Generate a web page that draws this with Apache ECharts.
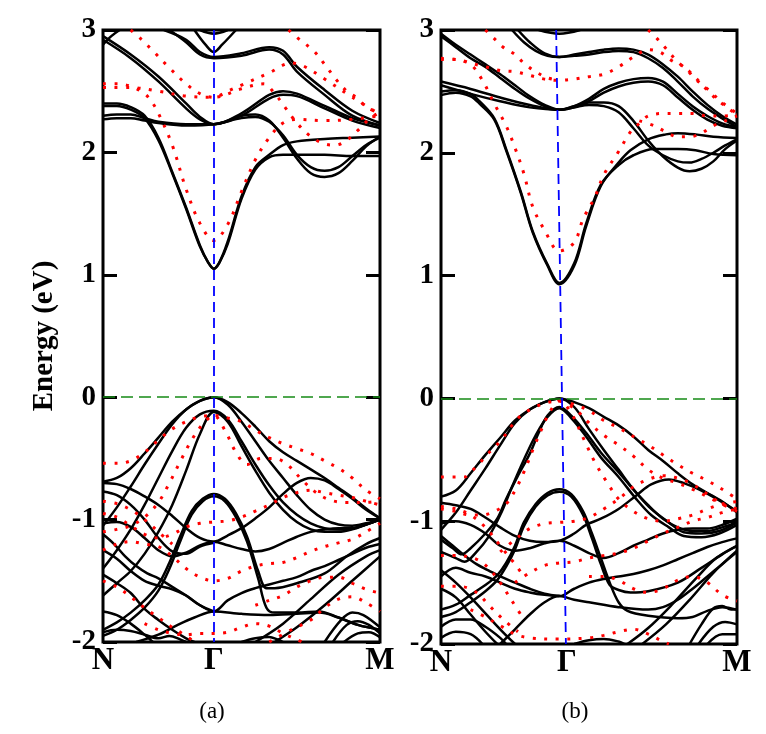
<!DOCTYPE html>
<html>
<head>
<meta charset="utf-8">
<script src="https://cdn.jsdelivr.net/npm/echarts@6/dist/echarts.min.js"></script>
<style>
  html, body { margin: 0; padding: 0; background: #fff; }
  #chart { width: 766px; height: 734px; }
</style>
</head>
<body>
<div id="chart"></div>
<script>
// energy axis (eV) and k-path labels
var yMin = -2, yMax = 3, yStep = 1;
var kNames = ['N', 'Γ', 'M'];
var kLabelPosA = [0, 0.4, 1];
var kLabelPosB = [0, 0.425, 1];
var gammaLineA = [[0.4, 3], [0.4, -2]];
var gammaLineB = [[0.389, 3], [0.422, -2]];

// panel (a): black solid bands, conduction
var blackCondA = [
  [[0,2.40],[0.05,2.40],[0.1,2.37],[0.15,2.30],[0.2,2.12],[0.25,1.84],[0.3,1.55],[0.35,1.24],[0.38,1.1],[0.4,1.05],[0.42,1.1],[0.45,1.25],[0.5,1.62],[0.55,1.86],[0.6,1.96],[0.65,1.98],[0.7,1.98],[0.8,1.98],[0.9,1.97],[1,1.97]],
  [[0,2.38],[0.05,2.38],[0.1,2.35],[0.15,2.28],[0.2,2.1],[0.25,1.83],[0.3,1.54],[0.35,1.23],[0.38,1.1],[0.4,1.05],[0.42,1.1],[0.45,1.27],[0.5,1.64],[0.55,1.88],[0.6,1.98],[0.65,2.06],[0.7,2.09],[0.8,2.11],[0.9,2.12],[1,2.13]],
  [[0,2.30],[0.05,2.31],[0.1,2.31],[0.15,2.28],[0.2,2.25],[0.3,2.23],[0.4,2.23],[0.5,2.30],[0.55,2.31],[0.6,2.26],[0.65,2.12],[0.7,1.95],[0.75,1.83],[0.8,1.8],[0.85,1.83],[0.9,1.93],[0.95,2.05],[1,2.13]],
  [[0,2.27],[0.05,2.28],[0.1,2.28],[0.15,2.26],[0.2,2.24],[0.3,2.22],[0.4,2.23],[0.5,2.28],[0.55,2.29],[0.6,2.25],[0.65,2.14],[0.7,1.98],[0.75,1.88],[0.8,1.85],[0.85,1.88],[0.9,1.97],[0.95,2.06],[1,2.12]],
  [[0,2.92],[0.1,2.77],[0.2,2.58],[0.3,2.36],[0.35,2.27],[0.4,2.23],[0.5,2.32],[0.6,2.47],[0.65,2.50],[0.7,2.48],[0.8,2.38],[0.9,2.28],[1,2.22]],
  [[0,2.95],[0.1,2.8],[0.2,2.62],[0.3,2.4],[0.35,2.29],[0.4,2.23],[0.5,2.30],[0.6,2.44],[0.65,2.47],[0.7,2.46],[0.8,2.36],[0.9,2.26],[1,2.2]],
  [[0.24,3.0],[0.3,2.9],[0.35,2.8],[0.4,2.77],[0.5,2.79],[0.6,2.84],[0.65,2.8],[0.7,2.66],[0.8,2.47],[0.9,2.3],[1,2.22]],
  [[0.22,3.0],[0.3,2.92],[0.35,2.82],[0.4,2.78],[0.5,2.81],[0.6,2.86],[0.65,2.83],[0.7,2.7],[0.8,2.51],[0.9,2.34],[1,2.24]],
  [[0.33,3.0],[0.37,2.88],[0.4,2.82],[0.43,2.88],[0.48,3.0]],
  [[0.35,3.0],[0.4,2.97],[0.45,3.0]],
  [[0,2.88],[0.03,2.95],[0.06,3.0]]
];

// panel (a): black solid bands, valence
var blackValA = [
  [[0,-0.69],[0.05,-0.66],[0.1,-0.58],[0.15,-0.46],[0.2,-0.33],[0.25,-0.2],[0.3,-0.1],[0.35,-0.03],[0.4,0],[0.45,-0.04],[0.5,-0.13],[0.55,-0.24],[0.6,-0.36],[0.65,-0.45],[0.7,-0.52],[0.75,-0.59],[0.8,-0.66],[0.85,-0.74],[0.9,-0.82],[0.95,-0.91],[1,-0.99]],
  [[0,-1.05],[0.05,-0.9],[0.1,-0.73],[0.15,-0.55],[0.2,-0.38],[0.25,-0.22],[0.3,-0.1],[0.35,-0.03],[0.4,0],[0.45,-0.06],[0.5,-0.2],[0.55,-0.36],[0.6,-0.52],[0.65,-0.66],[0.7,-0.8],[0.75,-0.92],[0.8,-1.0],[0.85,-1.04],[0.9,-1.05],[0.95,-1.03],[1,-1.0]],
  [[0,-1.4],[0.05,-1.25],[0.1,-1.08],[0.15,-0.88],[0.2,-0.66],[0.25,-0.44],[0.3,-0.25],[0.35,-0.14],[0.4,-0.11],[0.45,-0.18],[0.5,-0.36],[0.55,-0.55],[0.6,-0.72],[0.65,-0.86],[0.7,-0.96],[0.75,-1.03],[0.8,-1.07],[0.85,-1.08],[0.9,-1.07],[0.95,-1.04],[1,-1.0]],
  [[0,-1.62],[0.05,-1.52],[0.1,-1.42],[0.15,-1.28],[0.2,-1.1],[0.25,-0.88],[0.3,-0.6],[0.35,-0.3],[0.4,-0.12],[0.45,-0.2],[0.5,-0.4],[0.55,-0.6],[0.6,-0.78],[0.65,-0.92],[0.7,-1.02],[0.75,-1.08],[0.8,-1.1],[0.85,-1.1],[0.9,-1.08],[0.95,-1.04],[1,-1.0]],
  [[0,-0.7],[0.05,-0.71],[0.1,-0.75],[0.15,-0.81],[0.2,-0.88],[0.25,-0.97],[0.3,-1.07],[0.35,-1.15],[0.4,-1.18],[0.45,-1.13],[0.5,-1.07],[0.55,-0.99],[0.6,-0.9],[0.65,-0.79],[0.7,-0.7],[0.75,-0.66],[0.8,-0.68],[0.85,-0.75],[0.9,-0.83],[0.95,-0.92],[1,-0.99]],
  [[0,-1.03],[0.05,-1.02],[0.1,-1.06],[0.15,-1.15],[0.2,-1.25],[0.25,-1.3],[0.3,-1.27],[0.35,-1.21],[0.4,-1.18],[0.45,-1.21],[0.5,-1.24],[0.55,-1.26],[0.6,-1.24],[0.65,-1.19],[0.7,-1.14],[0.75,-1.1],[0.8,-1.08],[0.85,-1.07],[0.9,-1.07],[0.95,-1.04],[1,-1.0]],
  [[0,-0.77],[0.05,-0.8],[0.1,-0.88],[0.15,-1.0],[0.2,-1.15],[0.25,-1.26],[0.3,-1.28],[0.35,-1.22],[0.4,-1.19]],
  [[0,-1.9],[0.05,-1.84],[0.1,-1.76],[0.15,-1.66],[0.2,-1.53],[0.24,-1.35],[0.28,-1.13],[0.32,-0.93],[0.36,-0.83],[0.4,-0.79],[0.44,-0.83],[0.48,-0.95],[0.52,-1.14],[0.56,-1.42],[0.59,-1.56],[0.62,-1.56],[0.7,-1.52],[0.8,-1.44],[0.88,-1.3],[0.95,-1.2],[1,-1.15]],
  [[0,-1.95],[0.05,-1.9],[0.1,-1.82],[0.15,-1.72],[0.2,-1.58],[0.24,-1.4],[0.28,-1.17],[0.32,-0.96],[0.36,-0.85],[0.4,-0.81],[0.44,-0.85],[0.48,-0.98],[0.52,-1.18],[0.56,-1.48],[0.59,-1.72],[0.62,-1.76],[0.7,-1.76],[0.78,-1.75],[0.85,-1.8],[0.92,-1.86],[1,-1.9]],
  [[0,-1.25],[0.05,-1.32],[0.1,-1.42],[0.15,-1.5],[0.2,-1.54],[0.25,-1.57],[0.3,-1.62],[0.35,-1.7],[0.4,-1.75],[0.45,-1.66],[0.5,-1.6],[0.55,-1.56],[0.6,-1.53],[0.65,-1.5],[0.7,-1.47],[0.75,-1.42],[0.8,-1.38],[0.85,-1.33],[0.9,-1.28],[0.95,-1.23],[1,-1.2]],
  [[0.12,-2.0],[0.2,-1.94],[0.27,-1.86],[0.33,-1.8],[0.4,-1.75],[0.5,-1.77],[0.6,-1.78],[0.7,-1.77],[0.78,-1.76],[0.85,-1.8],[0.92,-1.86],[1,-1.9]],
  [[0.55,-2.0],[0.65,-1.85],[0.75,-1.65],[0.85,-1.45],[0.95,-1.3],[1,-1.25]],
  [[0.62,-2.0],[0.7,-1.88],[0.8,-1.7],[0.9,-1.5],[1,-1.3]],
  [[0.8,-2.0],[0.86,-1.82],[0.9,-1.76],[0.94,-1.78],[1,-1.88]],
  [[0.83,-2.0],[0.88,-1.86],[0.92,-1.83],[0.96,-1.86],[1,-1.93]],
  [[0.87,-2.0],[0.92,-1.93],[0.96,-1.92],[1,-1.96]],
  [[0,-1.45],[0.05,-1.52],[0.1,-1.6],[0.15,-1.73],[0.2,-1.82],[0.25,-1.9],[0.3,-1.97],[0.33,-2.0]],
  [[0,-1.75],[0.05,-1.78],[0.1,-1.85],[0.15,-1.94],[0.18,-2.0]],
  [[0,-1.92],[0.05,-1.9],[0.1,-1.91],[0.15,-1.94],[0.2,-1.97],[0.24,-1.95],[0.28,-1.98],[0.3,-2.0]],
  [[0.5,-2.0],[0.55,-1.97],[0.6,-1.96],[0.63,-1.98],[0.65,-2.0]],
  [[0,-1.12],[0.04,-1.2],[0.08,-1.3],[0.12,-1.38],[0.16,-1.44],[0.2,-1.48],[0.25,-1.55],[0.3,-1.62],[0.35,-1.7],[0.4,-1.75]]
];

// panel (a): red dotted bands
var redA = [
  [[0,2.56],[0.05,2.56],[0.1,2.54],[0.15,2.48],[0.18,2.4],[0.2,2.32],[0.25,2.06],[0.3,1.7],[0.35,1.42],[0.4,1.28],[0.45,1.41],[0.5,1.68],[0.55,1.94],[0.6,2.12],[0.65,2.24],[0.7,2.27],[0.8,2.26],[0.9,2.27],[1,2.3]],
  [[0,2.53],[0.1,2.53],[0.2,2.5],[0.3,2.46],[0.4,2.45],[0.5,2.52],[0.58,2.56],[0.62,2.48],[0.66,2.36],[0.7,2.24],[0.75,2.13],[0.8,2.07],[0.84,2.06],[0.88,2.1],[0.92,2.18],[0.96,2.27],[1,2.33]],
  [[0.1,3.0],[0.14,2.92],[0.18,2.83],[0.24,2.69],[0.3,2.56],[0.35,2.48],[0.4,2.45],[0.45,2.5],[0.5,2.55],[0.6,2.65],[0.68,2.73],[0.72,2.71],[0.8,2.6],[0.9,2.45],[1,2.31]],
  [[0.67,3.0],[0.7,2.94],[0.76,2.83],[0.8,2.72],[0.84,2.6],[0.88,2.5],[0.92,2.44],[0.95,2.37],[1,2.32]],
  [[0,-0.54],[0.05,-0.54],[0.1,-0.52],[0.15,-0.45],[0.2,-0.35],[0.25,-0.26],[0.3,-0.2],[0.35,-0.16],[0.4,-0.15],[0.45,-0.17],[0.5,-0.2],[0.55,-0.27],[0.6,-0.33],[0.65,-0.38],[0.7,-0.42],[0.75,-0.46],[0.8,-0.52],[0.85,-0.58],[0.9,-0.66],[0.95,-0.76],[1,-0.83]],
  [[0,-1.1],[0.05,-1.08],[0.1,-1.05],[0.15,-0.98],[0.2,-0.86],[0.24,-0.7],[0.28,-0.52],[0.32,-0.35],[0.36,-0.22],[0.4,-0.15],[0.44,-0.27],[0.48,-0.45],[0.52,-0.55],[0.57,-0.5],[0.62,-0.5],[0.67,-0.56],[0.72,-0.68],[0.77,-0.78],[0.82,-0.84],[0.88,-0.86],[0.94,-0.86],[1,-0.85]],
  [[0,-0.95],[0.05,-0.98],[0.1,-1.05],[0.15,-1.12],[0.2,-1.15],[0.25,-1.12],[0.3,-1.06],[0.35,-1.03],[0.4,-1.02],[0.45,-1.01],[0.5,-0.98],[0.55,-0.93],[0.6,-0.88],[0.65,-0.82],[0.7,-0.78],[0.75,-0.76],[0.8,-0.78],[0.85,-0.8],[0.9,-0.82],[0.95,-0.85],[1,-0.88]],
  [[0,-1.25],[0.05,-1.2],[0.1,-1.18],[0.15,-1.2],[0.2,-1.22],[0.25,-1.3],[0.3,-1.4],[0.35,-1.47],[0.4,-1.5],[0.45,-1.48],[0.5,-1.42],[0.55,-1.38],[0.6,-1.36],[0.65,-1.35],[0.7,-1.31],[0.75,-1.26],[0.8,-1.22],[0.85,-1.19],[0.9,-1.16],[0.95,-1.1],[1,-1.03]],
  [[0.15,-1.85],[0.2,-1.9],[0.25,-1.93],[0.3,-1.94],[0.35,-1.93],[0.4,-1.93],[0.45,-1.92],[0.5,-1.88],[0.55,-1.85],[0.6,-1.87],[0.65,-1.93],[0.7,-1.98],[0.72,-2.0]],
  [[0.6,-2.0],[0.68,-1.9],[0.75,-1.82],[0.8,-1.72],[0.85,-1.65],[0.9,-1.63],[0.95,-1.68],[1,-1.75]],
  [[0.55,-1.7],[0.6,-1.66],[0.65,-1.62],[0.7,-1.55],[0.75,-1.5],[0.8,-1.47],[0.85,-1.47],[0.9,-1.52],[0.95,-1.57],[1,-1.6]],
  [[0,-1.5],[0.05,-1.55],[0.1,-1.63],[0.15,-1.72],[0.2,-1.8],[0.25,-1.88],[0.3,-1.95],[0.33,-2.0]],
  [[0,-0.85],[0.05,-0.87],[0.1,-0.92],[0.15,-1.0],[0.2,-1.1],[0.25,-1.2]]
];

// panel (b): black solid bands, conduction
var blackCondB = [
  [[0,2.47],[0.05,2.49],[0.1,2.46],[0.13,2.4],[0.18,2.27],[0.22,2.02],[0.27,1.67],[0.31,1.35],[0.36,1.08],[0.4,0.93],[0.45,1.08],[0.49,1.4],[0.54,1.73],[0.6,1.92],[0.64,2.02],[0.7,2.11],[0.76,2.15],[0.8,2.16],[0.86,2.15],[0.92,2.13],[1,2.12]],
  [[0,2.5],[0.05,2.51],[0.1,2.48],[0.13,2.42],[0.18,2.28],[0.22,2.03],[0.27,1.68],[0.31,1.36],[0.36,1.09],[0.4,0.94],[0.45,1.1],[0.49,1.42],[0.54,1.74],[0.6,1.9],[0.65,1.98],[0.72,2.03],[0.8,2.03],[0.86,2.02],[0.92,1.99],[1,1.98]],
  [[0,2.58],[0.1,2.52],[0.2,2.45],[0.3,2.39],[0.4,2.35],[0.45,2.38],[0.5,2.41],[0.55,2.41],[0.6,2.38],[0.65,2.26],[0.7,2.1],[0.75,1.97],[0.8,1.88],[0.84,1.85],[0.88,1.87],[0.92,1.93],[0.96,2.03],[1,2.1]],
  [[0,2.55],[0.1,2.48],[0.2,2.42],[0.3,2.37],[0.4,2.35],[0.45,2.37],[0.5,2.39],[0.55,2.38],[0.6,2.33],[0.65,2.2],[0.7,2.06],[0.75,1.98],[0.8,1.93],[0.84,1.92],[0.88,1.95],[0.92,2.0],[0.96,2.06],[1,2.11]],
  [[0,2.97],[0.05,2.88],[0.1,2.8],[0.15,2.72],[0.2,2.64],[0.25,2.55],[0.3,2.46],[0.35,2.39],[0.4,2.35],[0.45,2.38],[0.5,2.44],[0.55,2.52],[0.6,2.57],[0.65,2.6],[0.7,2.61],[0.75,2.58],[0.8,2.48],[0.85,2.38],[0.9,2.3],[0.95,2.24],[1,2.21]],
  [[0,2.95],[0.05,2.86],[0.1,2.77],[0.15,2.7],[0.2,2.61],[0.25,2.52],[0.3,2.44],[0.35,2.38],[0.4,2.35],[0.45,2.37],[0.5,2.42],[0.55,2.49],[0.6,2.54],[0.65,2.57],[0.7,2.58],[0.75,2.55],[0.8,2.45],[0.85,2.35],[0.9,2.27],[0.95,2.22],[1,2.2]],
  [[0.24,3.0],[0.28,2.9],[0.32,2.83],[0.36,2.79],[0.4,2.78],[0.45,2.8],[0.5,2.82],[0.55,2.84],[0.6,2.85],[0.65,2.84],[0.7,2.8],[0.75,2.72],[0.8,2.62],[0.85,2.5],[0.9,2.39],[0.95,2.3],[1,2.23]],
  [[0.26,3.0],[0.3,2.9],[0.35,2.81],[0.4,2.78],[0.45,2.79],[0.5,2.8],[0.55,2.82],[0.6,2.83],[0.65,2.82],[0.7,2.77],[0.75,2.69],[0.8,2.58],[0.85,2.46],[0.9,2.36],[0.95,2.28],[1,2.21]],
  [[0.33,3.0],[0.4,2.97],[0.47,3.0]]
];

// panel (b): black solid bands, valence
var blackValB = [
  [[0,-0.8],[0.05,-0.75],[0.1,-0.61],[0.15,-0.46],[0.2,-0.32],[0.25,-0.18],[0.3,-0.09],[0.35,-0.03],[0.4,0],[0.45,-0.03],[0.5,-0.08],[0.55,-0.15],[0.6,-0.22],[0.65,-0.31],[0.7,-0.42],[0.75,-0.51],[0.8,-0.61],[0.85,-0.7],[0.9,-0.77],[0.95,-0.84],[1,-0.93]],
  [[0,-1.07],[0.05,-0.93],[0.1,-0.75],[0.15,-0.57],[0.2,-0.38],[0.25,-0.2],[0.3,-0.09],[0.35,-0.03],[0.4,0],[0.45,-0.07],[0.5,-0.25],[0.55,-0.42],[0.6,-0.58],[0.65,-0.74],[0.7,-0.87],[0.75,-0.98],[0.8,-1.05],[0.85,-1.08],[0.9,-1.08],[0.95,-1.05],[1,-1.01]],
  [[0,-1.15],[0.04,-1.22],[0.07,-1.27],[0.1,-1.22],[0.15,-1.1],[0.19,-0.98],[0.22,-0.82],[0.26,-0.63],[0.3,-0.45],[0.33,-0.28],[0.36,-0.14],[0.4,-0.07],[0.44,-0.14],[0.49,-0.28],[0.54,-0.44],[0.6,-0.6],[0.66,-0.77],[0.71,-0.9],[0.77,-1.01],[0.82,-1.09],[0.88,-1.1],[0.94,-1.08],[1,-1.01]],
  [[0,-1.25],[0.05,-1.3],[0.08,-1.33],[0.12,-1.25],[0.16,-1.13],[0.2,-0.95],[0.24,-0.72],[0.28,-0.5],[0.32,-0.3],[0.36,-0.15],[0.4,-0.08],[0.44,-0.16],[0.49,-0.31],[0.54,-0.48],[0.6,-0.64],[0.66,-0.82],[0.71,-0.95],[0.77,-1.05],[0.82,-1.12],[0.88,-1.13],[0.94,-1.1],[1,-1.03]],
  [[0,-0.85],[0.05,-0.87],[0.1,-0.9],[0.15,-0.97],[0.2,-1.05],[0.25,-1.12],[0.3,-1.16],[0.35,-1.17],[0.4,-1.16],[0.45,-1.1],[0.49,-1.03],[0.54,-0.98],[0.6,-0.9],[0.66,-0.79],[0.71,-0.7],[0.77,-0.66],[0.82,-0.69],[0.88,-0.75],[0.94,-0.83],[1,-0.92]],
  [[0,-1.02],[0.05,-1.0],[0.1,-1.03],[0.15,-1.1],[0.2,-1.2],[0.25,-1.24],[0.3,-1.22],[0.35,-1.18],[0.4,-1.16],[0.45,-1.2],[0.5,-1.26],[0.55,-1.3],[0.6,-1.26],[0.65,-1.2],[0.7,-1.15],[0.75,-1.1],[0.8,-1.07],[0.85,-1.06],[0.9,-1.06],[0.95,-1.03],[1,-0.98]],
  [[0,-1.72],[0.05,-1.68],[0.1,-1.6],[0.15,-1.52],[0.19,-1.44],[0.22,-1.34],[0.25,-1.2],[0.28,-1.01],[0.32,-0.86],[0.36,-0.77],[0.4,-0.74],[0.44,-0.78],[0.48,-0.92],[0.51,-1.1],[0.54,-1.3],[0.57,-1.5],[0.6,-1.66],[0.63,-1.73],[0.7,-1.77],[0.8,-1.79],[0.85,-1.78],[0.9,-1.73],[0.95,-1.7],[1,-1.72]],
  [[0,-1.78],[0.05,-1.74],[0.1,-1.66],[0.15,-1.57],[0.19,-1.48],[0.22,-1.37],[0.25,-1.23],[0.28,-1.04],[0.32,-0.88],[0.36,-0.79],[0.4,-0.76],[0.44,-0.8],[0.48,-0.95],[0.51,-1.14],[0.54,-1.35],[0.57,-1.52],[0.6,-1.56],[0.64,-1.58],[0.7,-1.57],[0.8,-1.5],[0.88,-1.38],[0.95,-1.27],[1,-1.2]],
  [[0,-1.45],[0.05,-1.38],[0.1,-1.42],[0.15,-1.45],[0.2,-1.5],[0.25,-1.55],[0.3,-1.58],[0.35,-1.6],[0.4,-1.61],[0.45,-1.55],[0.5,-1.5],[0.55,-1.47],[0.6,-1.45],[0.65,-1.43],[0.7,-1.4],[0.75,-1.36],[0.8,-1.31],[0.85,-1.26],[0.9,-1.21],[0.95,-1.17],[1,-1.14]],
  [[0.2,-2.0],[0.25,-1.88],[0.3,-1.76],[0.35,-1.66],[0.4,-1.61],[0.45,-1.64],[0.5,-1.66],[0.6,-1.7],[0.7,-1.72],[0.75,-1.7],[0.8,-1.64],[0.85,-1.55],[0.9,-1.45],[0.95,-1.35],[1,-1.25]],
  [[0.63,-2.0],[0.7,-1.87],[0.78,-1.68],[0.86,-1.47],[0.93,-1.3],[1,-1.2]],
  [[0.68,-2.0],[0.76,-1.84],[0.84,-1.64],[0.92,-1.42],[1,-1.24]],
  [[0.84,-2.0],[0.88,-1.84],[0.92,-1.71],[0.95,-1.69],[0.98,-1.72],[1,-1.72]],
  [[0.87,-2.0],[0.92,-1.86],[0.96,-1.82],[1,-1.84]],
  [[0.9,-2.0],[0.95,-1.92],[1,-1.92]],
  [[0,-1.4],[0.05,-1.5],[0.1,-1.62],[0.15,-1.75],[0.2,-1.88],[0.25,-2.0]],
  [[0,-1.55],[0.05,-1.62],[0.1,-1.76],[0.15,-1.9],[0.19,-2.0]],
  [[0,-1.86],[0.05,-1.8],[0.1,-1.8],[0.15,-1.86],[0.2,-1.95],[0.22,-2.0]],
  [[0,-1.95],[0.05,-1.9],[0.1,-1.92],[0.14,-2.0]],
  [[0.45,-2.0],[0.5,-1.97],[0.55,-1.96],[0.6,-1.98],[0.62,-2.0]],
  [[0,-1.12],[0.04,-1.2],[0.08,-1.28],[0.12,-1.35],[0.16,-1.4],[0.2,-1.45],[0.25,-1.5],[0.3,-1.55],[0.35,-1.59],[0.4,-1.61]]
];

// panel (b): red dotted bands
var redB = [
  [[0,2.76],[0.05,2.76],[0.1,2.72],[0.14,2.59],[0.18,2.4],[0.22,2.22],[0.25,2.04],[0.28,1.83],[0.31,1.56],[0.35,1.37],[0.4,1.2],[0.45,1.27],[0.48,1.46],[0.52,1.64],[0.55,1.82],[0.6,2.01],[0.64,2.17],[0.67,2.24],[0.7,2.3],[0.75,2.32],[0.8,2.32],[0.85,2.32],[0.9,2.3],[0.95,2.3],[1,2.31]],
  [[0.67,2.26],[0.72,2.22],[0.76,2.17],[0.8,2.13],[0.84,2.13],[0.88,2.16],[0.92,2.22],[0.96,2.26],[1,2.3]],
  [[0,2.77],[0.05,2.76],[0.1,2.73],[0.15,2.7],[0.2,2.67],[0.25,2.66],[0.3,2.63],[0.35,2.6],[0.4,2.59],[0.45,2.6],[0.5,2.62],[0.55,2.64],[0.6,2.7],[0.65,2.78],[0.7,2.84],[0.74,2.82],[0.78,2.75],[0.82,2.7],[0.86,2.6],[0.9,2.52],[0.95,2.41],[1,2.32]],
  [[0.7,3.0],[0.73,2.93],[0.76,2.85],[0.8,2.74],[0.84,2.66],[0.88,2.56],[0.92,2.46],[0.96,2.38],[1,2.31]],
  [[0.15,3.0],[0.18,2.93],[0.21,2.86],[0.25,2.8],[0.28,2.73],[0.32,2.66],[0.36,2.61],[0.4,2.59]],
  [[0,-0.64],[0.05,-0.64],[0.08,-0.64],[0.1,-0.6],[0.13,-0.53],[0.15,-0.47],[0.18,-0.4],[0.21,-0.32],[0.24,-0.22],[0.27,-0.14],[0.31,-0.08],[0.35,-0.04],[0.4,-0.02],[0.45,-0.05],[0.5,-0.1],[0.55,-0.18],[0.6,-0.24],[0.65,-0.31],[0.7,-0.38],[0.75,-0.46],[0.8,-0.54],[0.85,-0.61],[0.9,-0.67],[0.95,-0.74],[1,-0.82]],
  [[0.4,-0.02],[0.45,-0.08],[0.5,-0.2],[0.55,-0.3],[0.6,-0.38],[0.65,-0.47],[0.7,-0.58],[0.75,-0.65],[0.8,-0.69],[0.85,-0.74],[0.9,-0.8],[0.95,-0.86],[1,-0.9]],
  [[0,-0.9],[0.05,-0.92],[0.1,-0.95],[0.14,-0.95],[0.18,-0.92],[0.22,-0.86],[0.25,-0.75],[0.28,-0.6],[0.31,-0.42],[0.34,-0.25],[0.37,-0.1],[0.4,-0.02],[0.44,-0.12],[0.48,-0.32],[0.52,-0.52],[0.56,-0.68],[0.6,-0.82],[0.65,-0.92],[0.7,-0.98],[0.75,-1.0],[0.8,-0.98],[0.85,-0.95],[0.9,-0.9],[0.95,-0.86],[1,-0.84]],
  [[0.2,-1.25],[0.25,-1.15],[0.3,-1.06],[0.35,-1.02],[0.4,-1.01],[0.45,-1.0],[0.5,-0.97],[0.55,-0.9],[0.6,-0.82],[0.65,-0.72],[0.7,-0.66],[0.75,-0.63],[0.8,-0.65],[0.85,-0.7],[0.9,-0.78],[0.95,-0.86],[1,-0.92]],
  [[0.25,-1.5],[0.3,-1.42],[0.35,-1.36],[0.4,-1.34],[0.45,-1.33],[0.5,-1.3],[0.55,-1.28],[0.6,-1.26],[0.65,-1.22],[0.7,-1.16],[0.75,-1.1],[0.8,-1.05],[0.85,-1.0],[0.9,-0.97],[0.95,-0.93],[1,-0.9]],
  [[0.5,-1.45],[0.55,-1.45],[0.6,-1.48],[0.65,-1.55],[0.7,-1.58],[0.75,-1.55],[0.8,-1.48],[0.85,-1.45],[0.9,-1.5],[0.95,-1.6],[1,-1.65]],
  [[0.1,-1.72],[0.15,-1.78],[0.2,-1.85],[0.25,-1.92],[0.3,-1.95],[0.4,-1.96],[0.5,-1.95],[0.55,-1.93],[0.6,-1.9],[0.65,-1.88],[0.7,-1.92],[0.75,-1.98],[0.77,-2.0]],
  [[0,-0.88],[0.05,-0.9],[0.1,-0.95],[0.15,-1.05],[0.2,-1.2],[0.25,-1.35],[0.28,-1.45]],
  [[0,-1.28],[0.06,-1.28],[0.12,-1.31],[0.16,-1.38],[0.2,-1.5],[0.24,-1.65],[0.28,-1.8]],
  [[0,-1.53],[0.06,-1.53],[0.12,-1.58],[0.16,-1.68],[0.21,-1.8],[0.26,-1.9]]
];

var chart = echarts.init(document.getElementById('chart'), null, {renderer: 'canvas'});

var serifFont = '"Liberation Serif", "DejaVu Serif", serif';

function labelFor(positions) {
  return function (v) {
    for (var i = 0; i < positions.length; i++) {
      if (Math.abs(positions[i] - v) < 1e-6) return kNames[i];
    }
    return '';
  };
}

function makeXAxis(gi, positions) {
  return {
    type: 'value', gridIndex: gi, min: 0, max: 1,
    axisLine: {show: false}, axisTick: {show: false}, splitLine: {show: false},
    axisLabel: {
      customValues: positions, formatter: labelFor(positions),
      color: '#000', fontFamily: serifFont, fontWeight: 'bold', fontSize: 31, margin: 3
    }
  };
}

function makeYAxis(gi, side) {
  return {
    type: 'value', gridIndex: gi, position: side, min: yMin, max: yMax, interval: yStep,
    axisLine: {show: false}, splitLine: {show: false},
    axisTick: {show: true, inside: true, length: 14, lineStyle: {color: '#000', width: 3}},
    axisLabel: {
      show: side === 'left', color: '#000', fontFamily: serifFont, fontWeight: 'bold',
      fontSize: 29, margin: 7
    }
  };
}

var series = [];
function addBands(bands, gi, red) {
  bands.forEach(function (b) {
    series.push({
      type: 'line', xAxisIndex: gi, yAxisIndex: gi * 2, data: b,
      showSymbol: false, smooth: 0.35, silent: true, clip: true,
      z: red ? 3 : 2,
      lineStyle: red
        ? {color: '#ff0000', width: 3, type: [3, 8.5], cap: 'butt'}
        : {color: '#000000', width: 2.5}
    });
  });
}
addBands(blackCondA, 0, false);
addBands(blackValA, 0, false);
addBands(redA, 0, true);
addBands(blackCondB, 1, false);
addBands(blackValB, 1, false);
addBands(redB, 1, true);

function refLines(gi, gLine) {
  series.push({
    type: 'line', xAxisIndex: gi, yAxisIndex: gi * 2, data: [], z: 5, silent: true,
    markLine: {
      symbol: 'none', silent: true, animation: false, label: {show: false},
      data: [
        [{coord: [0, 0], lineStyle: {color: '#168a16', width: 1.6, type: [12, 6]}},
         {coord: [1, 0]}],
        [{coord: gLine[0], lineStyle: {color: '#0000ff', width: 1.8, type: [10, 6]}},
         {coord: gLine[1]}]
      ]
    }
  });
}
refLines(0, gammaLineA);
refLines(1, gammaLineB);

var option = {
  animation: false,
  backgroundColor: '#ffffff',
  grid: [
    {left: 103, top: 30, width: 277, height: 612, show: true, borderColor: '#000', borderWidth: 3, backgroundColor: 'transparent'},
    {left: 441, top: 30, width: 296, height: 614, show: true, borderColor: '#000', borderWidth: 3, backgroundColor: 'transparent'}
  ],
  xAxis: [makeXAxis(0, kLabelPosA), makeXAxis(1, kLabelPosB)],
  yAxis: [makeYAxis(0, 'left'), makeYAxis(0, 'right'), makeYAxis(1, 'left'), makeYAxis(1, 'right')],
  series: series,
  graphic: [
    {type: 'text', x: 45, y: 336, rotation: Math.PI / 2,
     style: {text: 'Energy (eV)', font: 'bold 29px ' + serifFont, fill: '#000', textAlign: 'center', textVerticalAlign: 'middle'}},
    {type: 'text', x: 212, y: 712,
     style: {text: '(a)', font: '23px ' + serifFont, fill: '#000', textAlign: 'center', textVerticalAlign: 'middle'}},
    {type: 'text', x: 575, y: 712,
     style: {text: '(b)', font: '23px ' + serifFont, fill: '#000', textAlign: 'center', textVerticalAlign: 'middle'}}
  ]
};
chart.setOption(option);
</script>
</body>
</html>
